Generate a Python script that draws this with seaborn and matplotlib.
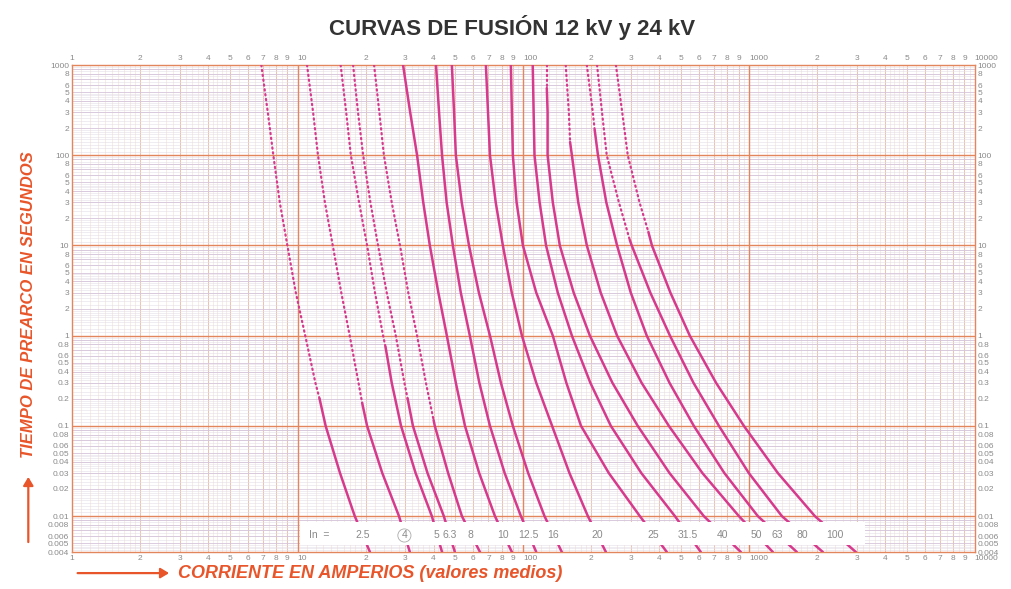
import numpy as np
import pandas as pd
import matplotlib
matplotlib.use("Agg")
import matplotlib.pyplot as plt
import seaborn as sns
from matplotlib.patches import Rectangle, FancyArrowPatch

# fuse ratings (A) and melting curves read from the sheet
ratings = ["2.5", "4", "5", "6.3", "8", "10", "12.5", "16",
           "20", "25", "31.5", "40", "50", "63", "80", "100"]
times = [1000, 300, 100, 30, 10, 3, 1, 0.3, 0.1, 0.03, 0.01, 0.004]
currents = [
    [6.9, 7.37, 7.8, 8.33, 9.0, 9.81, 10.8, 11.98, 13.3, 15.4, 17.9, 20.9],
    [11.0, 11.7, 12.3, 13.2, 14.3, 15.6, 17.0, 18.6, 20.3, 23.7, 28.1, 31.4],
    [15.5, 16.4, 17.2, 18.7, 20.3, 22.0, 23.9, 26.1, 28.7, 33.3, 39.3, 43.6],
    [17.6, 18.5, 19.5, 21.0, 22.7, 24.8, 27.2, 29.7, 32.4, 37.6, 44.4, 49.7],
    [21.8, 23.0, 24.1, 26.1, 28.4, 30.9, 33.8, 37.0, 40.5, 46.4, 53.4, 64.2],
    [29.3, 31.5, 33.8, 36.0, 38.5, 42.0, 45.8, 50.2, 55.1, 63.7, 74.8, 88.9],
    [41.0, 42.3, 43.6, 45.7, 48.7, 52.8, 57.9, 63.8, 71.1, 82.6, 97.5, 114],
    [48.2, 49.3, 50.2, 53.3, 57.4, 63.5, 71.1, 79.5, 89.8, 105, 124, 148],
    [68.2, 69.7, 71.1, 75.4, 81.1, 88.8, 98.5, 114, 134, 160, 193, 232],
    [88.0, 88.9, 89.8, 93.3, 99.5, 114, 135, 155, 180, 239, 328, 432],
    [110, 111, 112, 118, 126, 142, 164, 198, 244, 333, 469, 611],
    [127, 128, 128, 135, 145, 167, 197, 248, 321, 444, 630, 919],
    [154, 159, 164, 175, 191, 220, 260, 334, 441, 621, 901, 1274],
    [191, 203, 214, 233, 260, 299, 352, 444, 569, 777, 1093, 1627],
    [212, 223, 234, 265, 302, 365, 446, 567, 735, 997, 1397, 2122],
    [257, 274, 290, 327, 371, 448, 546, 714, 948, 1341, 1956, 2971],
]
# point where the dotted part of a curve turns solid (None = solid throughout)
switch_t = [0.2, 0.18, 0.75, 0.2, 0.116, None, None, None,
            None, None, None, 556, 140, 190, 11.5, 14.1]
switch_i = [12.5, 19.3, 24.5, 30.7, 40.0, None, None, None,
            None, None, None, 127, 161, 207, 296, 358]

curve_color = "#d63a8c"
orange = "#e8552a"
grid_major = "#e2865e"
label_grey = "#8a8a8a"

sns.set_style("white")
plt.rcParams["font.family"] = ["Liberation Sans", "DejaVu Sans"]

fig = plt.figure(figsize=(10.11, 5.89), dpi=100)
ax = fig.add_axes([0.0712, 0.0628, 0.893, 0.8268])
ax.set_xscale("log")
ax.set_yscale("log")
ax.set_xlim(1, 10000)
ax.set_ylim(0.004, 1000)

# log paper grid
fine = list(np.arange(1.1, 2.0, 0.1)) + list(np.arange(2.2, 5.0, 0.2)) + list(np.arange(5.5, 10, 0.5))
for k in range(0, 4):
    d = 10 ** k
    for f in fine:
        ax.axvline(d * f, color="#f5ddd2", lw=0.4, zorder=0)
    for m in range(2, 10):
        ax.axvline(d * m, color="#efb9a0", lw=0.6, zorder=0)
for k in range(-3, 3):
    d = 10.0 ** k
    for f in fine:
        ax.axhline(d * f, color="#e4dde9", lw=0.4, zorder=0)
    for m in range(2, 10):
        ax.axhline(d * m, color="#d6c4da", lw=0.6, zorder=0)
for v in [10, 100, 1000]:
    ax.axvline(v, color=grid_major, lw=1.0, zorder=1)
for v in [0.01, 0.1, 1, 10, 100]:
    ax.axhline(v, color=grid_major, lw=1.0, zorder=1)

# curves: dotted above the switch point, solid below
for i, r in enumerate(ratings):
    I = currents[i]
    if switch_t[i] is None:
        sns.lineplot(x=I, y=times, ax=ax, color=curve_color, lw=1.8,
                     sort=False, estimator=None, zorder=3)
        continue
    top_i = [c for c, t in zip(I, times) if t > switch_t[i]] + [switch_i[i]]
    top_t = [t for t in times if t > switch_t[i]] + [switch_t[i]]
    low_i = [switch_i[i]] + [c for c, t in zip(I, times) if t <= switch_t[i]]
    low_t = [switch_t[i]] + [t for t in times if t <= switch_t[i]]
    sns.lineplot(x=top_i, y=top_t, ax=ax, color=curve_color, lw=1.6,
                 linestyle=(0, (0.6, 1.6)), dash_capstyle="round",
                 sort=False, estimator=None, zorder=3)
    sns.lineplot(x=low_i, y=low_t, ax=ax, color=curve_color, lw=1.8,
                 sort=False, estimator=None, zorder=3)

# white strip with the ratings
ax.add_patch(Rectangle((0.2525, 0.0144), 0.626, 0.047, transform=ax.transAxes,
                       facecolor="white", edgecolor="none", zorder=4))
ax.text(12.5, 0.0061, "In  =", fontsize=7.5, color=label_grey, ha="center", va="center", zorder=5)
for i, r in enumerate(ratings):
    x = np.sqrt(currents[i][-1] * currents[i][-2])
    if r == "4":
        ax.text(x, 0.0061, r, fontsize=7.5, color=label_grey, ha="center", va="center", zorder=5,
                bbox=dict(boxstyle="circle,pad=0.15", fc="none", ec="#aaaaaa", lw=0.6))
    else:
        ax.text(x, 0.0061, r, fontsize=7.5, color=label_grey, ha="center", va="center", zorder=5)

# tick labels on all four sides
xt, xl = [], []
for k in range(0, 4):
    for m in range(1, 10):
        xt.append(m * 10 ** k)
        xl.append(str(10 ** k) if m == 1 else str(m))
xt.append(10000)
xl.append("10000")
ax.set_xticks(xt, xl)

yt, yl = [], []
for k in range(-3, 3):
    for m in [1, 2, 3, 4, 5, 6, 8]:
        v = m * 10.0 ** k
        if v < 0.004:
            continue
        yt.append(v)
        if m == 1:
            yl.append(f"{10.0 ** k:g}")
        elif k < 0:
            yl.append(f"{v:g}")
        else:
            yl.append(str(m))
yt.append(1000)
yl.append("1000")
ax.set_yticks(yt, yl)
ax.minorticks_off()
ax.tick_params(axis="both", length=0, labelsize=6, labelcolor=label_grey, pad=2,
               top=True, labeltop=True, right=True, labelright=True)

# decade labels start at their line, as on the printed sheet
for tick, v in zip(ax.xaxis.get_major_ticks(), xt):
    if v in (10, 100, 1000, 10000):
        tick.label1.set_horizontalalignment("left")
        tick.label2.set_horizontalalignment("left")

for s in ax.spines.values():
    s.set_color(grid_major)
    s.set_linewidth(1.0)

fig.text(0.506, 0.954, "CURVAS DE FUSIÓN 12 kV y 24 kV", ha="center", va="center",
         fontsize=16, fontweight="bold", color="#333333")
fig.text(0.176, 0.027, "CORRIENTE EN AMPERIOS (valores medios)", ha="left", va="center",
         fontsize=13, fontweight="bold", fontstyle="italic", color=orange)
fig.text(0.028, 0.482, "TIEMPO DE PREARCO EN SEGUNDOS", ha="center", va="center",
         rotation=90, fontsize=12, fontweight="bold", fontstyle="italic", color=orange)
fig.add_artist(FancyArrowPatch((0.074, 0.027), (0.170, 0.027),
               transform=fig.transFigure, arrowstyle="-|>,head_length=5,head_width=3",
               color=orange, lw=1.6))
fig.add_artist(FancyArrowPatch((0.028, 0.075), (0.028, 0.195),
               transform=fig.transFigure, arrowstyle="-|>,head_length=5,head_width=3",
               color=orange, lw=1.6))

fig.savefig("out.png", dpi=100)
plt.close(fig)
